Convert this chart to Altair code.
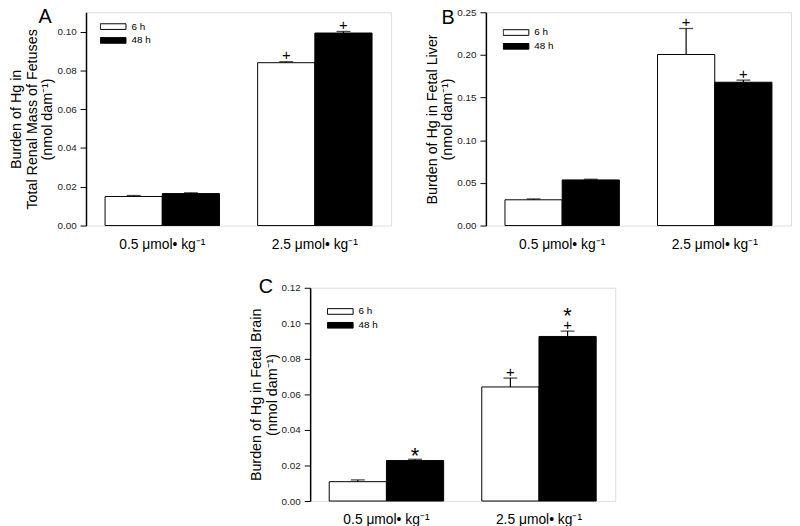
import altair as alt
import pandas as pd

FONT = "Liberation Sans, Arial, Helvetica, sans-serif"

doses = ["0.5 μmol• kg⁻¹", "2.5 μmol• kg⁻¹"]
times = ["6 h", "48 h"]

renal_6h = [0.0150, 0.0840]
renal_6h_err = [0.0005, 0.0005]
renal_48h = [0.0165, 0.0993]
renal_48h_err = [0.0004, 0.0008]
renal_6h_plus = ["", "+"]
renal_48h_plus = ["", "+"]
renal_6h_star = ["", ""]
renal_48h_star = ["", ""]

liver_6h = [0.0302, 0.2005]
liver_6h_err = [0.0010, 0.0305]
liver_48h = [0.0535, 0.1680]
liver_48h_err = [0.0008, 0.0025]
liver_6h_plus = ["", "+"]
liver_48h_plus = ["", "+"]
liver_6h_star = ["", ""]
liver_48h_star = ["", ""]

brain_6h = [0.0109, 0.0642]
brain_6h_err = [0.0010, 0.0050]
brain_48h = [0.0228, 0.0926]
brain_48h_err = [0.0007, 0.0030]
brain_6h_plus = ["", "+"]
brain_48h_plus = ["", "+"]
brain_6h_star = ["", ""]
brain_48h_star = ["*", "*"]


def table(v6, e6, v48, e48, p6, p48, s6, s48):
    rows = []
    for i, d in enumerate(doses):
        for t, v, e, p, s in ((times[0], v6, e6, p6, s6), (times[1], v48, e48, p48, s48)):
            star_low = s[i] if p[i] == "" else ""
            star_high = s[i] if p[i] != "" else ""
            rows.append({"dose": d, "time": t, "value": v[i], "top": v[i] + e[i],
                         "plus": p[i], "star_low": star_low, "star_high": star_high})
    return pd.DataFrame(rows)


def panel(df, letter, ytitle, ymax, ticks, lx, ly, letter_dx, letter_offset):
    base = alt.Chart(df)
    x = alt.X("dose:N", sort=doses,
              scale=alt.Scale(paddingInner=0.25, paddingOuter=0.125),
              axis=alt.Axis(title=None, labelAngle=0, ticks=False, domain=False,
                            labelFontSize=14, labelPadding=12, labelColor="black",
                            labelFont=FONT))
    xo = alt.XOffset("time:N", sort=times, scale=alt.Scale(paddingInner=0, paddingOuter=0))
    y = alt.Y("value:Q", scale=alt.Scale(domain=[0, ymax], nice=False),
              axis=alt.Axis(values=ticks, tickCount=len(ticks) + 2, format=".2f",
                            title=ytitle, grid=False, labelOverlap=False,
                            tickSize=6, tickColor="black", tickWidth=1,
                            labelFontSize=10, labelPadding=4, labelColor="#222",
                            labelFont=FONT, titleFont=FONT, titleFontSize=14.5,
                            titleFontWeight="normal", titleColor="black",
                            titleLineHeight=16, titlePadding=2,
                            domainColor="black", domainWidth=1.5))
    color = alt.Color("time:N", sort=times,
                      scale=alt.Scale(domain=times, range=["white", "black"]),
                      legend=alt.Legend(title=None, orient="none", legendX=lx, legendY=ly,
                                        symbolType="M-1,-0.22H1V0.22H-1Z", symbolSize=676,
                                        symbolStrokeColor="black", symbolStrokeWidth=1,
                                        labelFontSize=10, labelFont=FONT, labelColor="black",
                                        labelOffset=5, clipHeight=14, rowPadding=0,
                                        padding=0, direction="vertical"))
    bars = base.mark_bar(stroke="black", strokeWidth=1).encode(x=x, xOffset=xo, y=y, color=color)
    err = base.mark_rule(color="black", strokeWidth=1.2).encode(
        x=x, xOffset=xo, y="value:Q", y2="top:Q")
    cap = base.mark_tick(color="black", size=14, thickness=1.3, orient="horizontal").encode(
        x=x, xOffset=xo, y="top:Q")
    plus = base.transform_filter("datum.plus != ''").mark_text(
        baseline="bottom", dy=1.5, fontSize=15, font=FONT, color="black").encode(
        x=x, xOffset=xo, y="top:Q", text="plus:N")
    star_low = base.transform_filter("datum.star_low != ''").mark_text(
        baseline="bottom", dy=9, fontSize=22, font=FONT, color="black").encode(
        x=x, xOffset=xo, y="top:Q", text="star_low:N")
    star_high = base.transform_filter("datum.star_high != ''").mark_text(
        baseline="bottom", dy=-3, fontSize=22, font=FONT, color="black").encode(
        x=x, xOffset=xo, y="top:Q", text="star_high:N")
    return alt.layer(bars, err, cap, plus, star_low, star_high).properties(
        width=309, height=216,
        title=alt.TitleParams(letter, anchor="start", frame="group", fontSize=20,
                              font=FONT, fontWeight="normal", dx=letter_dx,
                              offset=letter_offset, color="black"))


A = panel(table(renal_6h, renal_6h_err, renal_48h, renal_48h_err,
                renal_6h_plus, renal_48h_plus, renal_6h_star, renal_48h_star),
          "A", ["Burden of Hg in", "Total Renal Mass of Fetuses", "(nmol dam⁻¹)"],
          0.11, [0, 0.02, 0.04, 0.06, 0.08, 0.10], 14, 7.5, -48, -15)
B = panel(table(liver_6h, liver_6h_err, liver_48h, liver_48h_err,
                liver_6h_plus, liver_48h_plus, liver_6h_star, liver_48h_star),
          "B", ["Burden of Hg in Fetal Liver", "(nmol dam⁻¹)"],
          0.25, [0, 0.05, 0.10, 0.15, 0.20, 0.25], 17, 13.5, -45, -21)
C = panel(table(brain_6h, brain_6h_err, brain_48h, brain_48h_err,
                brain_6h_plus, brain_48h_plus, brain_6h_star, brain_48h_star),
          "C", ["Burden of Hg in Fetal Brain", "(nmol dam⁻¹)"],
          0.12, [0, 0.02, 0.04, 0.06, 0.08, 0.10, 0.12], 17, 17, -52, -14)

spacer = alt.Chart(pd.DataFrame({"v": []})).mark_point(opacity=0).properties(
    width=227, height=216, view=alt.ViewBackground(stroke="transparent"))

top = alt.hconcat(A, B, spacing=96, bounds="flush").resolve_scale(color="independent").resolve_legend(color="independent")
bottom = alt.hconcat(spacer, C, spacing=0, bounds="flush").resolve_scale(color="independent").resolve_legend(color="independent")

chart = alt.vconcat(top, bottom, spacing=24).resolve_scale(
    color="independent").resolve_legend(color="independent").properties(
    padding={"left": 0, "top": -5, "right": 0, "bottom": 0}
).configure_view(stroke="black", strokeWidth=1.5).configure(background="white")

chart.save("out.html", embed_options={"renderer": "svg", "actions": False})
